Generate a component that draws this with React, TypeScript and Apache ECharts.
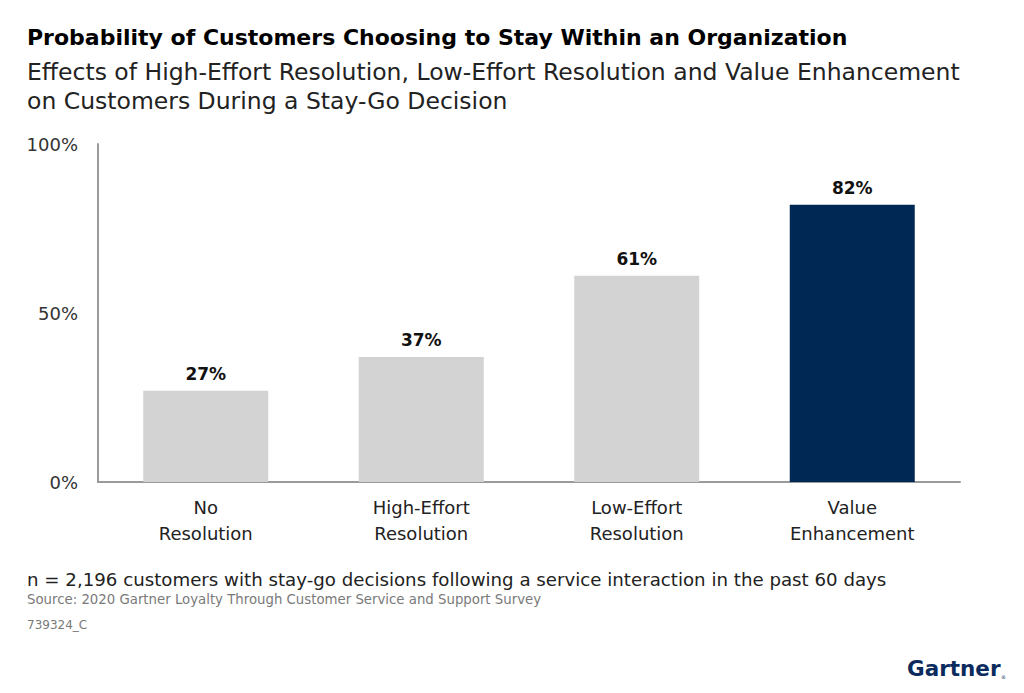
import React, { useEffect, useRef } from "react";
import * as echarts from "echarts";

const categories = ["No\nResolution", "High-Effort\nResolution", "Low-Effort\nResolution", "Value\nEnhancement"];
const values = [27, 37, 61, 82];
const barColors = ["#d3d3d3", "#d3d3d3", "#d3d3d3", "#002855"];
const yTicks = [0, 50, 100];

const titleText = "Probability of Customers Choosing to Stay Within an Organization";
const subtitleText = "Effects of High-Effort Resolution, Low-Effort Resolution and Value Enhancement\non Customers During a Stay-Go Decision";
const noteText = "n = 2,196 customers with stay-go decisions following a service interaction in the past 60 days";
const sourceText = "Source: 2020 Gartner Loyalty Through Customer Service and Support Survey";
const idText = "739324_C";

const FONT = "'DejaVu Sans', Roboto, sans-serif";

export default function App() {
  const ref = useRef<HTMLDivElement>(null);
  useEffect(() => {
    if (!ref.current) return;
    const chart = echarts.init(ref.current, undefined, { renderer: "svg" });
    chart.setOption({
      animation: false,
      backgroundColor: "#ffffff",
      textStyle: { fontFamily: FONT },
      title: [
        {
          text: titleText,
          left: 27,
          top: 26,
          padding: 0,
          textStyle: { fontFamily: FONT, fontWeight: "bold", fontSize: 22, color: "#000000" },
        },
        {
          text: subtitleText,
          left: 27,
          top: 57,
          padding: 0,
          textStyle: { fontFamily: FONT, fontWeight: "normal", fontSize: 23.5, lineHeight: 29, color: "#222222" },
        },
      ],
      grid: { left: 98, right: 64, top: 144, bottom: 211, containLabel: false },
      xAxis: {
        type: "category",
        data: categories,
        axisLine: { show: true, lineStyle: { color: "#9a9a9a", width: 2 } },
        axisTick: { show: false },
        axisLabel: { fontFamily: FONT, fontSize: 18, color: "#222222", lineHeight: 26, margin: 12 },
      },
      yAxis: {
        type: "value",
        min: 0,
        max: 100,
        interval: 50,
        axisLine: { show: true, lineStyle: { color: "#9a9a9a", width: 2 } },
        axisTick: { show: false },
        splitLine: { show: false },
        axisLabel: {
          fontFamily: FONT,
          fontSize: 18,
          color: "#333333",
          margin: 20,
          formatter: (v: number) => (yTicks.includes(v) ? `${v}%` : ""),
        },
      },
      series: [
        {
          type: "bar",
          barWidth: 125,
          data: values.map((v, i) => ({ value: v, itemStyle: { color: barColors[i] } })),
          label: {
            show: true,
            position: "top",
            distance: 8,
            formatter: "{c}%",
            fontFamily: FONT,
            fontWeight: "bold",
            fontSize: 17,
            color: "#111111",
          },
        },
      ],
      graphic: [
        {
          type: "text",
          left: 27,
          top: 570,
          style: { text: noteText, fontFamily: FONT, fontSize: 18.2, fill: "#222222" },
        },
        {
          type: "text",
          left: 27,
          top: 593,
          style: { text: sourceText, fontFamily: FONT, fontSize: 13.3, fill: "#7a7a7a" },
        },
        {
          type: "text",
          left: 27,
          top: 619,
          style: { text: idText, fontFamily: FONT, fontSize: 12, fill: "#7a7a7a" },
        },
        {
          type: "text",
          left: 907,
          top: 657,
          style: { text: "Gartner", fontFamily: FONT, fontWeight: "bold", fontSize: 21.5, fill: "#0b2b5e" },
        },
        {
          type: "text",
          left: 1001,
          top: 674,
          style: { text: "®", fontFamily: FONT, fontSize: 5, fill: "#0b2b5e" },
        },
      ],
    });
    return () => chart.dispose();
  }, []);
  return (
    <div
      ref={ref}
      style={{ position: "absolute", left: 0, top: 0, width: 1024, height: 693 }}
    />
  );
}
